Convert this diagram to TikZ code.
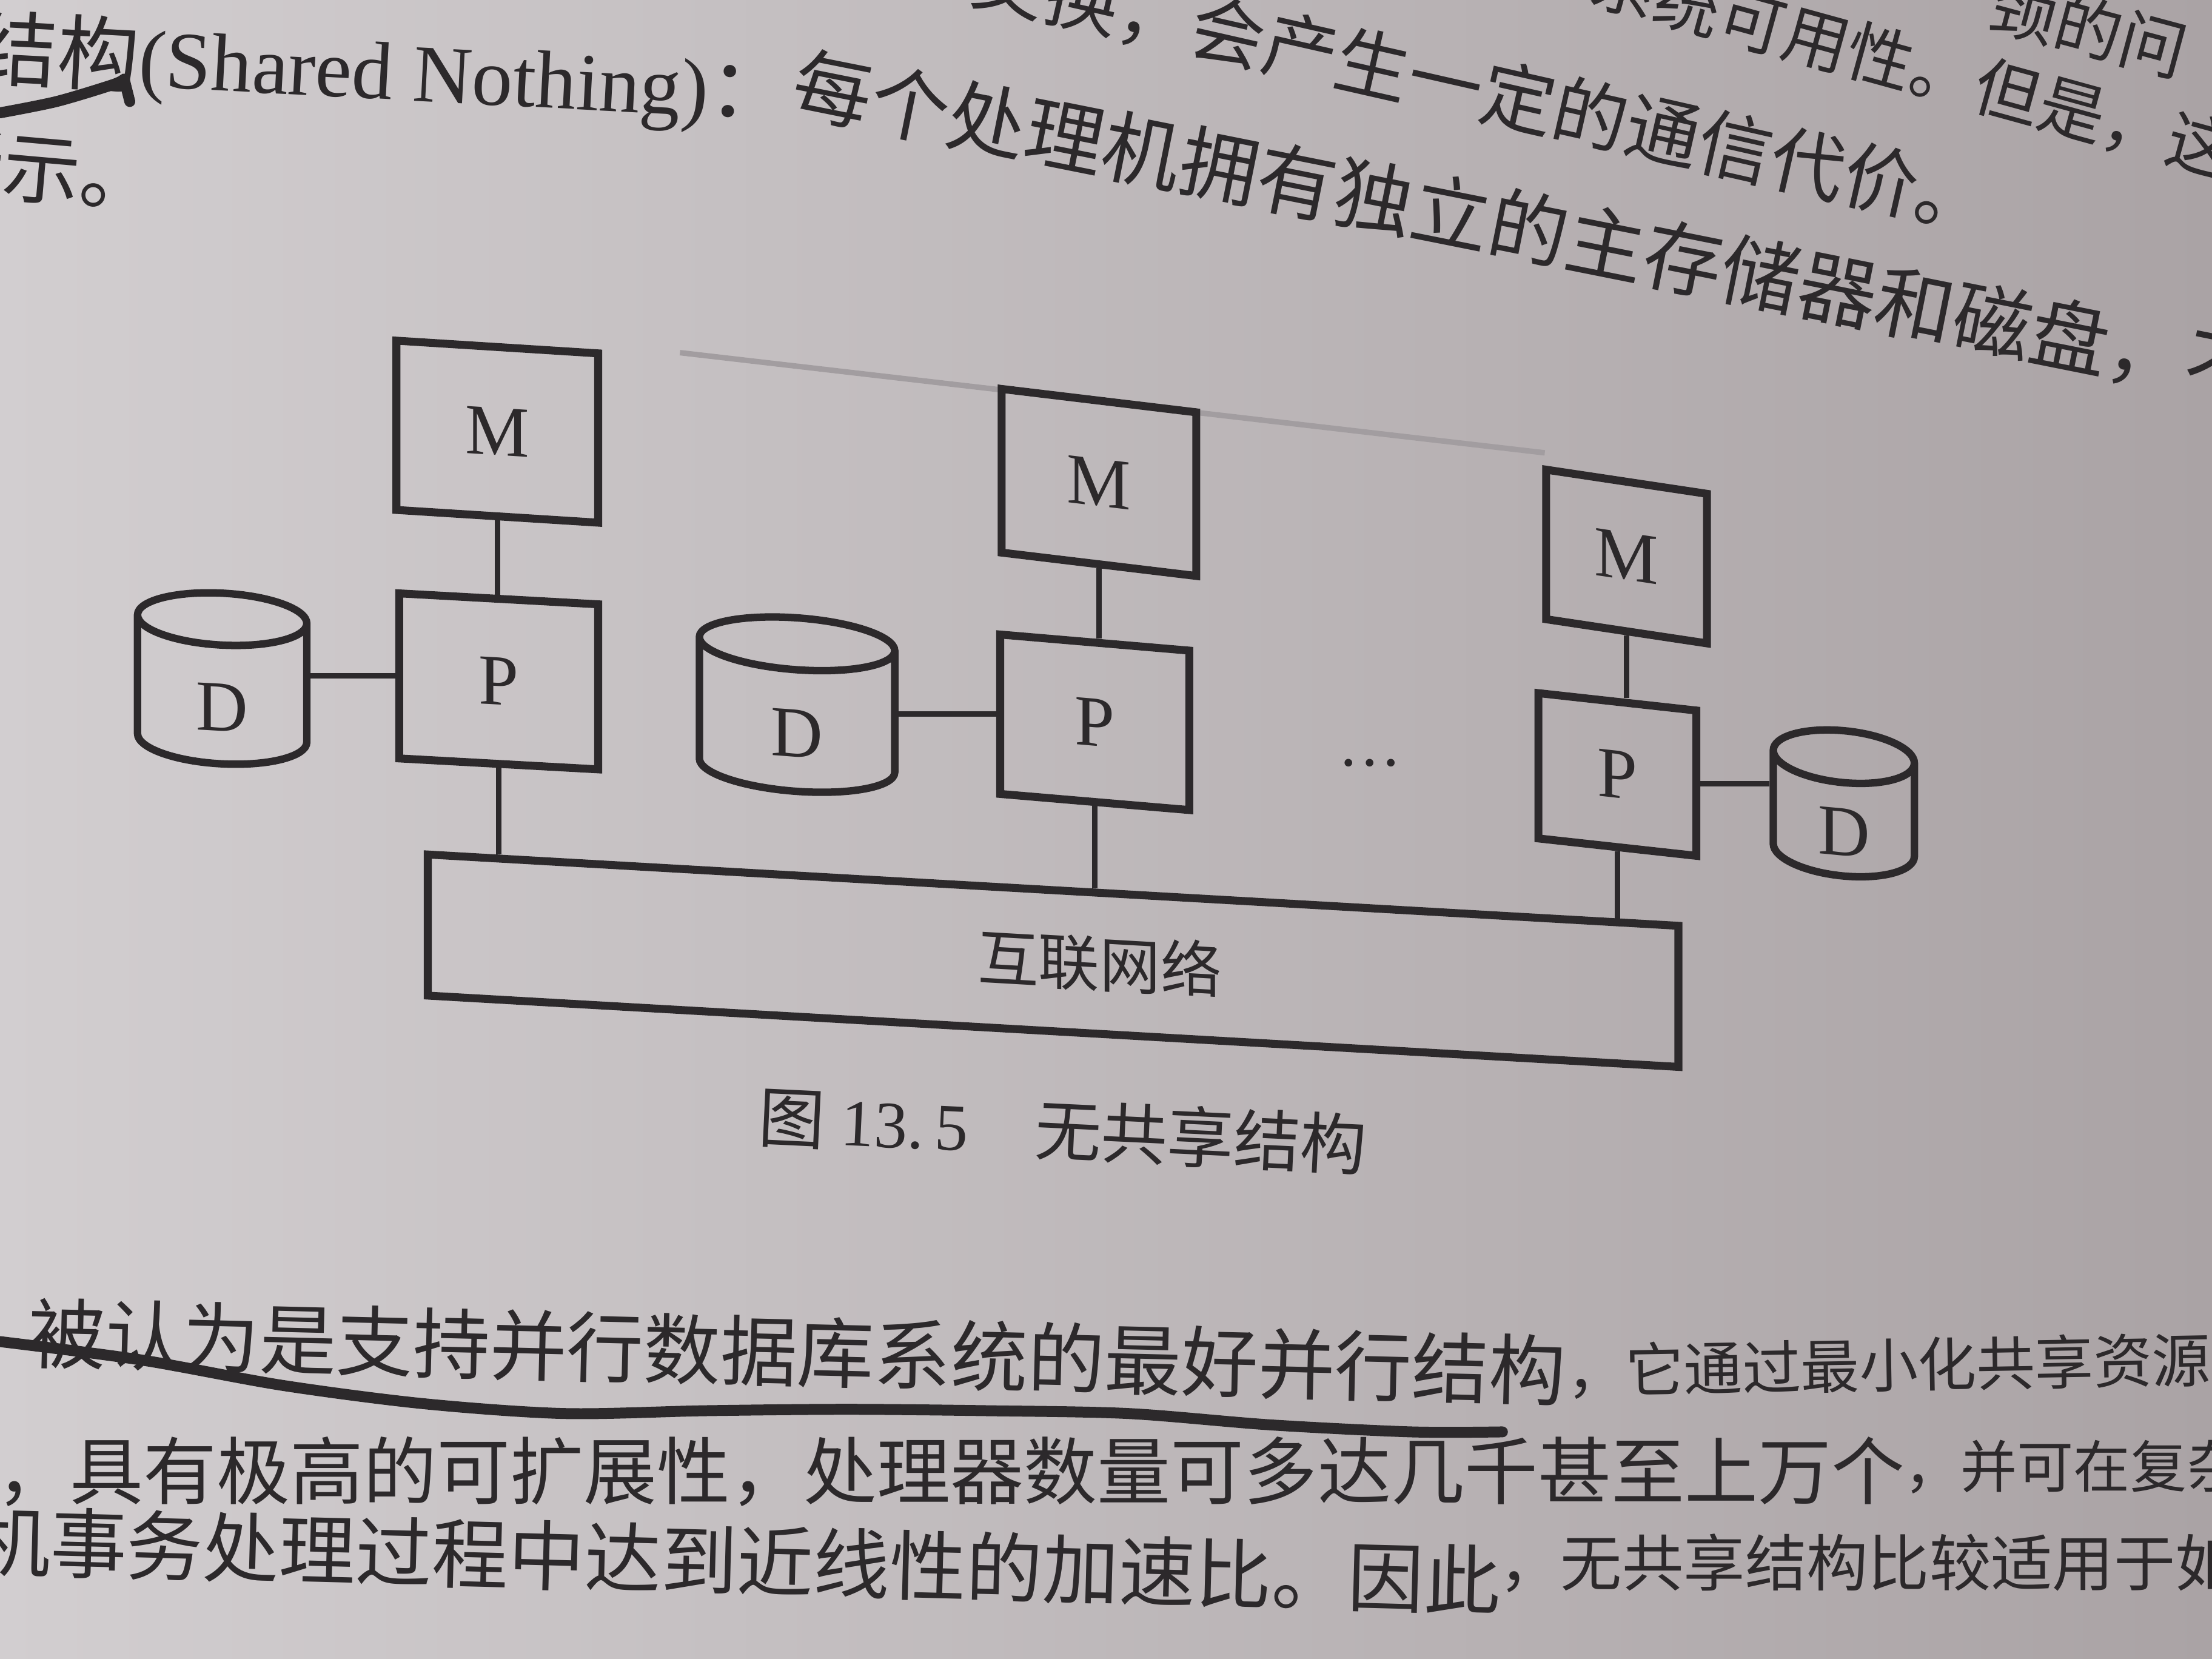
\documentclass[tikz,border=0pt]{standalone}
\usepackage{fontspec}
\setmainfont{Liberation Serif}
\newfontfamily\cjk{Noto Sans CJK SC}
\usetikzlibrary{calc,shapes.geometric}

\definecolor{ink}{RGB}{44,41,43}
\definecolor{paperL}{RGB}{210,206,208}
\definecolor{paperM}{RGB}{196,191,193}
\definecolor{paperR}{RGB}{170,163,165}
\definecolor{pencilgray}{RGB}{162,157,160}

\tikzset{
  cellbox/.style={draw=ink, line width=1.6pt, rectangle, inner sep=0pt, text=ink,
    font=\fontsize{14.5}{15}\selectfont},
  diskcyl/.style={draw=ink, line width=1.5pt, cylinder, shape border rotate=90,
    aspect=1.0, inner sep=0pt, text=ink, font=\fontsize{14.5}{15}\selectfont},
  link/.style={draw=ink, line width=1.1pt},
  pageline/.style={text=ink, inner sep=0pt, anchor=west},
  penmark/.style={draw=ink, line width=2.2pt, line cap=round, line join=round},
}
\newcommand{\disklabel}{\raisebox{-0.1cm}[\height][\depth]{D}}

\begin{document}
\begin{tikzpicture}
\useasboundingbox (0,0) rectangle (15.68,-11.76);
\shade[left color=paperL, middle color=paperM, right color=paperR] (0,0) rectangle (15.68,-11.76);
\clip (0,0) rectangle (15.68,-11.76);

% page text above the figure
\node[pageline, rotate=-15, font={\cjk\fontsize{13.4}{14}\selectfont}] (t0a) at (14.12,-0.01) {颈的问};
\node[pageline, rotate=-15.4, font={\cjk\fontsize{13.4}{14}\selectfont}] (t0) at (11.28,0.16) {系统可用性。但是，这};
\node[pageline, rotate=-12.8, font={\cjk\fontsize{15}{16}\selectfont}] (t1) at (6.90,0.18) {交换，会产生一定的通信代价。};
\node[pageline, rotate=-3, font=\fontsize{16.5}{17}\selectfont] (t2a) at (-0.18,-0.37) {{\cjk 结构}(Shared Nothing){\cjk ：}};
\node[pageline, rotate=-11.3, font={\cjk\fontsize{15.9}{16}\selectfont}] (t2b) at (5.625,-0.58) {每个处理机拥有独立的主存储器和磁盘，不共};
\node[pageline, anchor=east, rotate=-5, font={\cjk\fontsize{15.6}{16}\selectfont}] (t3) at (1.125,-1.27) {所示。};

% pen marks
\draw[penmark] plot[smooth] coordinates {(0,-0.80) (0.4,-0.72) (0.8,-0.60) (0.88,-0.56)} -- (0.92,-0.72);
\draw[draw=pencilgray, line width=1.1pt] (4.82,-2.50) -- (10.95,-3.21);

% figure: processors, memories, disks
\node[cellbox, minimum width=1.43cm, minimum height=1.20cm, yslant=-0.063] (M1) at (3.525,-3.06) {M};
\node[cellbox, minimum width=1.41cm, minimum height=1.17cm, yslant=-0.055] (P1) at (3.535,-4.83) {P};
\node[diskcyl, minimum width=1.20cm, minimum height=1.21cm, yslant=-0.05] (D1) at (1.575,-4.915) {\disklabel};

\node[cellbox, minimum width=1.38cm, minimum height=1.16cm, yslant=-0.12] (M2) at (7.79,-3.42) {M};
\node[cellbox, minimum width=1.34cm, minimum height=1.13cm, yslant=-0.085] (P2) at (7.76,-5.12) {P};
\node[diskcyl, minimum width=1.385cm, minimum height=1.23cm, yslant=-0.07] (D2) at (5.65,-5.10) {\disklabel};

\node[cellbox, minimum width=1.14cm, minimum height=1.06cm, yslant=-0.15] (M3) at (11.53,-3.945) {M};
\node[cellbox, minimum width=1.12cm, minimum height=1.03cm, yslant=-0.11] (P3) at (11.465,-5.49) {P};
\node[diskcyl, minimum width=1.00cm, minimum height=1.03cm, yslant=-0.09] (D3) at (13.07,-5.80) {\disklabel};

\node[text=ink, inner sep=0pt, font=\fontsize{13}{13}\selectfont] (dots) at (9.71,-5.47) {···};

\node[cellbox, minimum width=8.865cm, minimum height=1.0cm, yslant=-0.057,
  font={\cjk\fontsize{12.3}{13}\selectfont}] (net) at (7.465,-6.81) {\hspace*{0.66cm}互联网络};

\draw[link] (M1.south) -- (M1.south |- P1.north);
\draw[link] (M2.south) -- (M2.south |- P2.north);
\draw[link] (M3.south) -- (M3.south |- P3.north);
\draw[link] (P1.west) -- (P1.west -| D1.east);
\draw[link] (P2.west) -- (P2.west -| D2.east);
\draw[link] (P3.east) -- (P3.east -| D3.west);
\draw[link] let \p1=(P1.south), \p2=(net.north west), \p3=(net.north east) in
  (P1.south) -- (\x1,{\y2+(\y3-\y2)*(\x1-\x2)/(\x3-\x2)});
\draw[link] let \p1=(P2.south), \p2=(net.north west), \p3=(net.north east) in
  (P2.south) -- (\x1,{\y2+(\y3-\y2)*(\x1-\x2)/(\x3-\x2)});
\draw[link] let \p1=(P3.south), \p2=(net.north west), \p3=(net.north east) in
  (P3.south) -- (\x1,{\y2+(\y3-\y2)*(\x1-\x2)/(\x3-\x2)});

% caption
\node[pageline, rotate=-2.7, font=\fontsize{13.4}{14}\selectfont] (caption) at (5.37,-7.91)
  {{\cjk 图} 13.\,5\quad{\cjk 无共享结构}};

% page text below the figure
\node[pageline, rotate=-1.4, font={\cjk\fontsize{15.5}{16}\selectfont}] (b1a) at (0.2,-9.45) {被认为是支持并行数据库系统的最好并行结构};
\node[pageline, rotate=1, font={\cjk\fontsize{11.8}{12}\selectfont}] (b1b) at (11.1,-9.72) {，它通过最小化共享资源};
\draw[penmark] plot[smooth] coordinates {(0,-9.51) (1,-9.64) (2,-9.82) (3,-9.95) (4,-10.02) (5,-10.0) (6,-9.99) (7,-10.0) (8,-10.02) (9,-10.10) (10,-10.15) (10.65,-10.15)};
\node[pageline, font={\cjk\fontsize{14.8}{15}\selectfont}] (b2a) at (-0.55,-10.43) {率，具有极高的可扩展性，处理器数量可多达几千甚至上万个};
\node[pageline, font={\cjk\fontsize{11.4}{12}\selectfont}] (b2b) at (13.49,-10.40) {，并可在复杂};
\node[pageline, rotate=-1.5, font={\cjk\fontsize{15.4}{16}\selectfont}] (b3a) at (-0.19,-10.92) {机事务处理过程中达到近线性的加速比。因此};
\node[pageline, font={\cjk\fontsize{12.4}{13}\selectfont}] (b3b) at (10.62,-11.08) {，无共享结构比较适用于如};
\end{tikzpicture}
\end{document}
